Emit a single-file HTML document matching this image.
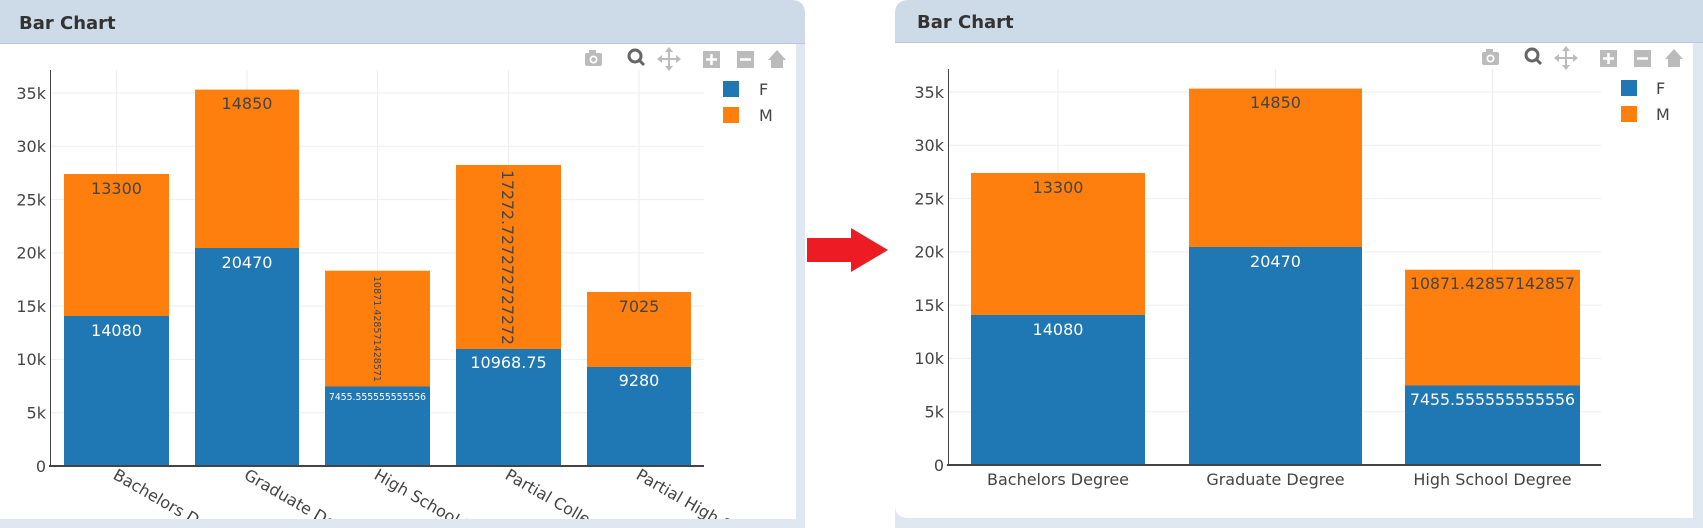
<!DOCTYPE html>
<html><head><meta charset="utf-8"><style>
html,body{margin:0;padding:0;background:#fff;width:1703px;height:528px;overflow:hidden}
svg{display:block}
text{font-family:"DejaVu Sans","Liberation Sans",sans-serif}
</style></head><body>
<svg width="1703" height="528" viewBox="0 0 1703 528" xmlns="http://www.w3.org/2000/svg">
<defs>
<clipPath id="lc"><rect x="0" y="43" width="796" height="476"/></clipPath>
</defs>
<!-- LEFT PANEL -->
<path d="M0,0 H791 Q805,0 805,14 V528 H0 Z" fill="#dfe7f0"/>
<path d="M0,0 H791 Q805,0 805,14 V43 H0 Z" fill="#cddbe8"/>
<rect x="0" y="43" width="796" height="476" fill="#fff"/>
<line x1="0" y1="43.5" x2="805" y2="43.5" stroke="#b8c8da"/>
<text x="19" y="29" font-size="18" font-weight="bold" fill="#333">Bar Chart</text>
<g clip-path="url(#lc)">
<g stroke="#eee" stroke-width="1">
<line x1="50" x2="704" y1="412.7" y2="412.7"/><line x1="50" x2="704" y1="359.4" y2="359.4"/>
<line x1="50" x2="704" y1="306.1" y2="306.1"/><line x1="50" x2="704" y1="252.9" y2="252.9"/>
<line x1="50" x2="704" y1="199.6" y2="199.6"/><line x1="50" x2="704" y1="146.3" y2="146.3"/>
<line x1="50" x2="704" y1="93" y2="93"/>
<line x1="116.5" x2="116.5" y1="70" y2="466"/><line x1="247" x2="247" y1="70" y2="466"/>
<line x1="377.5" x2="377.5" y1="70" y2="466"/><line x1="508.5" x2="508.5" y1="70" y2="466"/>
<line x1="639" x2="639" y1="70" y2="466"/>
</g>
<rect x="64" y="316" width="105" height="150" fill="#1f77b4"/><rect x="64" y="174" width="105" height="142" fill="#ff7f0e"/>
<rect x="195" y="248" width="104" height="218" fill="#1f77b4"/><rect x="195" y="89.6" width="104" height="158.4" fill="#ff7f0e"/>
<rect x="325" y="386.5" width="105" height="79.5" fill="#1f77b4"/><rect x="325" y="270.7" width="105" height="115.8" fill="#ff7f0e"/>
<rect x="456" y="349" width="105" height="117" fill="#1f77b4"/><rect x="456" y="165" width="105" height="184" fill="#ff7f0e"/>
<rect x="587" y="367" width="104" height="99" fill="#1f77b4"/><rect x="587" y="292" width="104" height="75" fill="#ff7f0e"/>
<g font-size="16" text-anchor="middle">
<text x="116.5" y="194" fill="#444">13300</text>
<text x="116.5" y="336" fill="#fff">14080</text>
<text x="247" y="109" fill="#444">14850</text>
<text x="247" y="268" fill="#fff">20470</text>
<text x="508.5" y="368" fill="#fff">10968.75</text>
<text x="639" y="312" fill="#444">7025</text>
<text x="639" y="386" fill="#fff">9280</text>
</g>
<text x="329" y="400" font-size="10" fill="#fff" textLength="97" lengthAdjust="spacingAndGlyphs">7455.555555555556</text>
<text transform="translate(374,276) rotate(90)" font-size="10" fill="#444" textLength="106" lengthAdjust="spacingAndGlyphs">10871.428571428571</text>
<text transform="translate(502,170) rotate(90)" font-size="16" fill="#444" textLength="175" lengthAdjust="spacingAndGlyphs">17272.727272727272</text>
<line x1="49" x2="704" y1="466" y2="466" stroke="#444" stroke-width="2"/>
<line x1="50.5" x2="50.5" y1="70" y2="466" stroke="#444" stroke-width="1"/>
<g font-size="16" fill="#444">
<text transform="translate(112,478) rotate(30)">Bachelors Degree</text>
<text transform="translate(243,478) rotate(30)">Graduate Degree</text>
<text transform="translate(373,478) rotate(30)">High School Degree</text>
<text transform="translate(504,478) rotate(30)">Partial College</text>
<text transform="translate(635,478) rotate(30)">Partial High School</text>
</g>
</g>
<g font-size="16" fill="#444" text-anchor="end">
<text x="46" y="472">0</text><text x="46" y="418.5">5k</text><text x="46" y="365">10k</text>
<text x="46" y="312">15k</text><text x="46" y="258.5">20k</text><text x="46" y="205.5">25k</text>
<text x="46" y="152">30k</text><text x="46" y="99">35k</text>
</g>
<rect x="723" y="81" width="16" height="16" fill="#1f77b4"/><rect x="723" y="107" width="16" height="16" fill="#ff7f0e"/>
<text x="759" y="95" font-size="16" fill="#444">F</text><text x="759" y="121" font-size="16" fill="#444">M</text>
<g id="tb">
<rect x="585" y="53" width="17" height="13" rx="2" fill="#bbb"/><rect x="589" y="50" width="7" height="4" fill="#bbb"/><circle cx="593.5" cy="59.5" r="4" fill="#fff"/><circle cx="593.5" cy="59.5" r="2.3" fill="#bbb"/>
<circle cx="635" cy="56" r="6" fill="none" stroke="#666" stroke-width="3"/><line x1="639" y1="60" x2="644" y2="65" stroke="#666" stroke-width="3"/>
<g stroke="#bbb" stroke-width="2"><line x1="669" y1="49" x2="669" y2="69"/><line x1="659" y1="59" x2="679" y2="59"/></g>
<g fill="#bbb"><path d="M669,47 L665,52 H673 Z"/><path d="M669,71 L665,66 H673 Z"/><path d="M657,59 L662,55 V63 Z"/><path d="M681,59 L676,55 V63 Z"/></g>
<rect x="703" y="51" width="17" height="17" fill="#bbb"/><g stroke="#fff" stroke-width="2.5"><line x1="711.5" y1="54" x2="711.5" y2="65"/><line x1="706" y1="59.5" x2="717" y2="59.5"/></g>
<rect x="737" y="51" width="17" height="17" fill="#bbb"/><line x1="740" y1="59.5" x2="751" y2="59.5" stroke="#fff" stroke-width="2.5"/>
<path d="M768,60 L777,50 L786,60 H783 V68 H771 V60 Z" fill="#bbb"/>
</g>
<rect x="807" y="238" width="46" height="24" fill="#ed1c24"/>
<path d="M851,228 L888,250 L851,272 Z" fill="#ed1c24"/>
<!-- RIGHT PANEL -->
<path d="M909,0 H1703 V528 H895 V14 Q895,0 909,0 Z" fill="#dfe7f0"/>
<path d="M909,0 H1703 V42 H895 V14 Q895,0 909,0 Z" fill="#cddbe8"/>
<path d="M895,42 H1693 V518 H909 Q895,518 895,505 Z" fill="#fff"/>
<line x1="895" y1="42.5" x2="1703" y2="42.5" stroke="#b8c8da"/>
<text x="917" y="28" font-size="18" font-weight="bold" fill="#333">Bar Chart</text>
<g stroke="#eee" stroke-width="1">
<line x1="948" x2="1601" y1="411.7" y2="411.7"/><line x1="948" x2="1601" y1="358.4" y2="358.4"/>
<line x1="948" x2="1601" y1="305.1" y2="305.1"/><line x1="948" x2="1601" y1="251.9" y2="251.9"/>
<line x1="948" x2="1601" y1="198.6" y2="198.6"/><line x1="948" x2="1601" y1="145.3" y2="145.3"/>
<line x1="948" x2="1601" y1="92" y2="92"/>
<line x1="1058" x2="1058" y1="69" y2="465"/><line x1="1275.5" x2="1275.5" y1="69" y2="465"/><line x1="1492.5" x2="1492.5" y1="69" y2="465"/>
</g>
<rect x="971" y="315" width="174" height="150" fill="#1f77b4"/><rect x="971" y="173" width="174" height="142" fill="#ff7f0e"/>
<rect x="1189" y="247" width="173" height="218" fill="#1f77b4"/><rect x="1189" y="88.6" width="173" height="158.4" fill="#ff7f0e"/>
<rect x="1405" y="385.5" width="175" height="79.5" fill="#1f77b4"/><rect x="1405" y="269.7" width="175" height="115.8" fill="#ff7f0e"/>
<g font-size="16" text-anchor="middle">
<text x="1058" y="193" fill="#444">13300</text>
<text x="1058" y="335" fill="#fff">14080</text>
<text x="1275.5" y="108" fill="#444">14850</text>
<text x="1275.5" y="267" fill="#fff">20470</text>
<text x="1492.5" y="289" fill="#444" textLength="165" lengthAdjust="spacingAndGlyphs">10871.42857142857</text>
<text x="1492.5" y="405" fill="#fff" textLength="165" lengthAdjust="spacingAndGlyphs">7455.555555555556</text>
</g>
<line x1="947" x2="1601" y1="465" y2="465" stroke="#444" stroke-width="2"/>
<line x1="948.5" x2="948.5" y1="69" y2="465" stroke="#444" stroke-width="1"/>
<g font-size="16" fill="#444" text-anchor="middle">
<text x="1058" y="485">Bachelors Degree</text>
<text x="1275.5" y="485">Graduate Degree</text>
<text x="1492.5" y="485">High School Degree</text>
</g>
<g font-size="16" fill="#444" text-anchor="end">
<text x="944" y="471">0</text><text x="944" y="417.5">5k</text><text x="944" y="364">10k</text>
<text x="944" y="311">15k</text><text x="944" y="257.5">20k</text><text x="944" y="204.5">25k</text>
<text x="944" y="151">30k</text><text x="944" y="98">35k</text>
</g>
<rect x="1621" y="80" width="16" height="16" fill="#1f77b4"/><rect x="1621" y="106" width="16" height="16" fill="#ff7f0e"/>
<text x="1656" y="94" font-size="16" fill="#444">F</text><text x="1656" y="120" font-size="16" fill="#444">M</text>
<use href="#tb" transform="translate(897,-1)"/>
</svg>
</body></html>
